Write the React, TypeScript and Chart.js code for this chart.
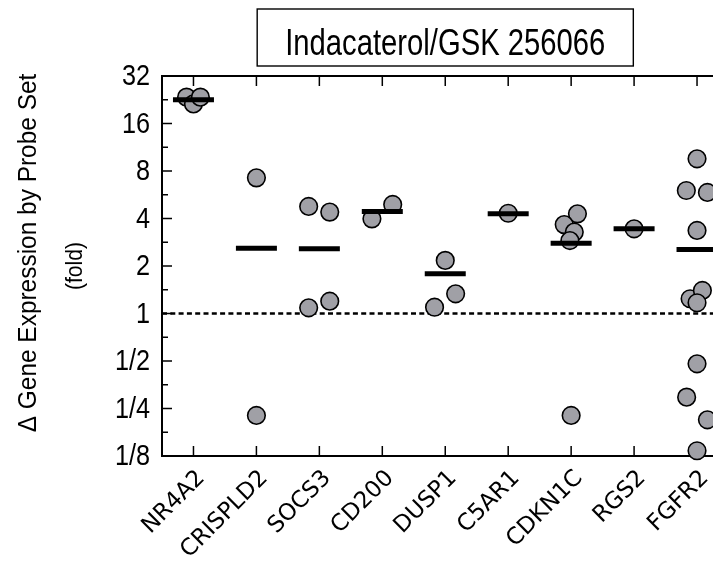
import React, { useEffect, useRef } from 'react';
import { Chart, registerables } from 'chart.js';

Chart.register(...registerables);

// ---------- data ----------
const chartTitle = 'Indacaterol/GSK 256066';
const yTitleMain = 'Δ Gene Expression by Probe Set';
const yTitleSub = '(fold)';

const categories = ['NR4A2', 'CRISPLD2', 'SOCS3', 'CD200', 'DUSP1', 'C5AR1', 'CDKN1C', 'RGS2', 'FGFR2'];

// mean (bar) per probe set, fold change
const meanFold = [22.6, 2.59, 2.57, 4.43, 1.785, 4.29, 2.79, 3.44, 2.54];

// individual probe-set values per gene (fold change)
const pointValues: number[][] = [
  [23.5, 21.3, 23.5],
  [7.24, 0.226],
  [4.77, 4.39, 1.087, 1.197],
  [3.98, 4.91],
  [2.17, 1.096, 1.333],
  [4.32],
  [4.28, 3.66, 3.28, 2.9, 0.226],
  [3.44],
  [9.56, 6.02, 5.85, 3.36, 1.24, 1.4, 1.17, 0.48, 0.295, 0.212, 0.135],
];

// horizontal jitter of each point (in category units)
const pointJitter: number[][] = [
  [-0.11, 0, 0.11],
  [0, 0],
  [-0.17, 0.165, -0.17, 0.165],
  [-0.165, 0.165],
  [0, -0.17, 0.165],
  [0],
  [0.1, -0.11, 0.05, -0.02, 0],
  [0],
  [0, -0.17, 0.165, 0, -0.11, 0.085, 0, 0, -0.165, 0.165, 0],
];

const yTickValues = [0.125, 0.25, 0.5, 1, 2, 4, 8, 16, 32];
const yTickLabels = ['1/8', '1/4', '1/2', '1', '2', '4', '8', '16', '32'];
const baselineFold = 1;

// ---------- styles ----------
const SANS = "'Liberation Sans', Arial, sans-serif";
const CANVAS_W = 760;
const CANVAS_H = 563;

function condensedText(ctx: any, text: string, x: number, y: number, size: number, sx: number, align: string, rot = 0) {
  ctx.save();
  ctx.translate(x, y);
  if (rot) ctx.rotate(rot);
  ctx.scale(sx, 1);
  ctx.font = `${size}px ${SANS}`;
  ctx.textAlign = align;
  ctx.textBaseline = 'middle';
  ctx.fillText(text, 0, 0);
  ctx.restore();
}

const framePlugin = {
  id: 'frameAndAnnotations',
  beforeDatasetsDraw(chart: any) {
    const { ctx, chartArea: a, scales } = chart;
    const xs = scales.x;
    const ys = scales.y;
    ctx.save();
    ctx.strokeStyle = '#000';
    // dashed baseline at fold = 1
    const yb = ys.getPixelForValue(baselineFold);
    ctx.setLineDash([5, 3.3]);
    ctx.lineWidth = 2.5;
    ctx.beginPath();
    ctx.moveTo(a.left, yb);
    ctx.lineTo(a.right, yb);
    ctx.stroke();
    ctx.setLineDash([]);

    // ticks (inward)
    ctx.lineWidth = 1.5;
    ctx.beginPath();
    yTickValues.forEach((v) => {
      const p = ys.getPixelForValue(v);
      ctx.moveTo(a.left, p);
      ctx.lineTo(a.left + 10, p);
      ctx.moveTo(a.right, p);
      ctx.lineTo(a.right - 10, p);
    });
    for (let i = 0; i < yTickValues.length - 1; i++) {
      const v = Math.sqrt(yTickValues[i] * yTickValues[i + 1]);
      const p = ys.getPixelForValue(v);
      ctx.moveTo(a.left, p);
      ctx.lineTo(a.left + 6, p);
      ctx.moveTo(a.right, p);
      ctx.lineTo(a.right - 6, p);
    }
    categories.forEach((_c, i) => {
      const p = xs.getPixelForValue(i);
      ctx.moveTo(p, a.bottom);
      ctx.lineTo(p, a.bottom - 10);
      ctx.moveTo(p, a.top);
      ctx.lineTo(p, a.top + 10);
    });
    ctx.stroke();

    // frame
    ctx.lineWidth = 2;
    ctx.strokeRect(a.left, a.top, a.right - a.left, a.bottom - a.top);
    ctx.restore();
  },
  afterDraw(chart: any) {
    const { ctx, chartArea: a, scales } = chart;
    const ys = scales.y;
    ctx.save();
    ctx.fillStyle = '#000';
    ctx.strokeStyle = '#000';

    // boxed title (condensed face)
    const cx = (a.left + a.right) / 2;
    const titleSize = 37;
    const titleSx = 0.79;
    ctx.font = `${titleSize}px ${SANS}`;
    const w = ctx.measureText(chartTitle).width * titleSx;
    ctx.lineWidth = 1.4;
    ctx.strokeRect(cx - w / 2 - 28, 9, w + 56, 57);
    ctx.save();
    ctx.translate(cx, 55);
    ctx.scale(titleSx, 1);
    ctx.textAlign = 'center';
    ctx.textBaseline = 'alphabetic';
    ctx.fillText(chartTitle, 0, 0);
    ctx.restore();

    // y tick labels (condensed face)
    yTickValues.forEach((v, i) => {
      condensedText(ctx, yTickLabels[i], a.left - 12, ys.getPixelForValue(v) + 1, 29, 0.87, 'right');
    });

    // y-axis title (two lines)
    condensedText(ctx, yTitleMain, 29, 253, 26, 0.94, 'center', -Math.PI / 2);
    condensedText(ctx, yTitleSub, 75, (a.top + a.bottom) / 2, 24, 0.88, 'center', -Math.PI / 2);
    ctx.restore();
  },
};

export default function App() {
  const canvasRef = useRef<HTMLCanvasElement | null>(null);

  useEffect(() => {
    const canvas = canvasRef.current;
    if (!canvas) return;

    const meanData = categories.map((_c, i) => ({ x: i, y: meanFold[i] }));
    const pts: { x: number; y: number }[] = [];
    pointValues.forEach((vals, i) => {
      vals.forEach((v, j) => pts.push({ x: i + pointJitter[i][j], y: v }));
    });

    const chart = new Chart(canvas, {
      type: 'scatter',
      data: {
        datasets: [
          {
            label: 'mean',
            data: meanData,
            pointStyle: 'line',
            pointRadius: 20.5,
            pointHoverRadius: 20.5,
            borderColor: '#000',
            backgroundColor: '#000',
            borderWidth: 5,
            pointBorderWidth: 5,
            clip: false,
          } as any,
          {
            label: 'probe sets',
            data: pts,
            pointStyle: 'circle',
            pointRadius: 8.8,
            pointHoverRadius: 8.8,
            backgroundColor: '#a0a0a6',
            borderColor: '#000',
            borderWidth: 1.6,
            pointBorderWidth: 1.6,
            clip: false,
          } as any,
        ],
      },
      options: {
        responsive: false,
        animation: false,
        devicePixelRatio: 1,
        layout: { padding: { top: 76, right: CANVAS_W - 728.5, left: 0, bottom: 0 } },
        plugins: {
          legend: { display: false },
          tooltip: { enabled: false },
          title: { display: false },
        },
        scales: {
          x: {
            type: 'linear',
            min: -0.5,
            max: 8.5,
            grid: { display: false, drawTicks: false },
            border: { display: false },
            afterBuildTicks: (scale: any) => {
              scale.ticks = categories.map((_c, i) => ({ value: i }));
            },
            afterFit: (scale: any) => {
              scale.height = CANVAS_H - 456;
            },
            ticks: {
              autoSkip: false,
              minRotation: 45,
              maxRotation: 45,
              padding: 9,
              labelOffset: 8,
              color: '#000',
              font: { family: "'DejaVu Sans', Verdana, sans-serif", size: 23 },
              callback: (v: any) => categories[Math.round(Number(v))] ?? '',
            },
          },
          y: {
            type: 'logarithmic',
            min: 0.125,
            max: 32,
            grid: { display: false, drawTicks: false },
            border: { display: false },
            afterBuildTicks: (scale: any) => {
              scale.ticks = yTickValues.map((v) => ({ value: v }));
            },
            afterFit: (scale: any) => {
              scale.width = 162;
            },
            ticks: {
              display: false,
              autoSkip: false,
              callback: (_v: any, idx: number) => yTickLabels[idx],
            },
          },
        },
      } as any,
      plugins: [framePlugin],
    });

    return () => chart.destroy();
  }, []);

  return (
    <div style={{ margin: -8, width: 721, height: 563, overflow: 'hidden', background: '#fff' }}>
      <canvas ref={canvasRef} width={CANVAS_W} height={CANVAS_H} style={{ display: 'block' }} />
    </div>
  );
}
